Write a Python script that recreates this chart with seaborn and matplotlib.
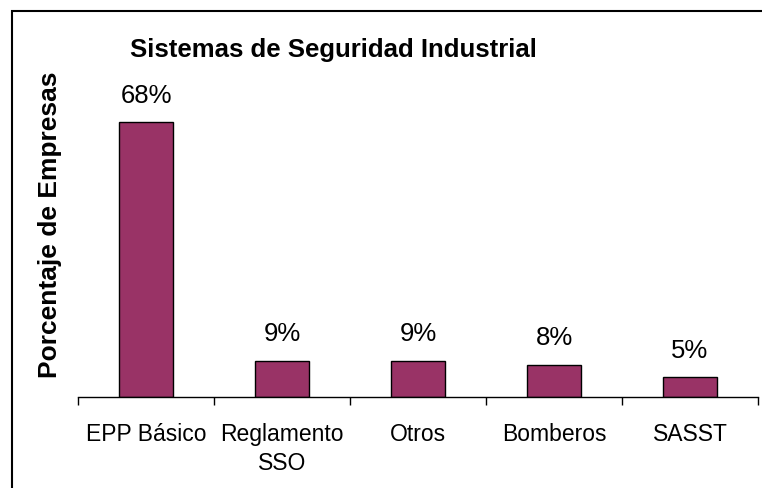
import matplotlib
matplotlib.use("Agg")
import matplotlib.pyplot as plt
from matplotlib.patches import Rectangle
import seaborn as sns
import pandas as pd

categories = ["EPP Básico", "Reglamento\nSSO", "Otros", "Bomberos", "SASST"]
values = [68, 9, 9, 8, 5]
title = "Sistemas de Seguridad Industrial"
ylabel = "Porcentaje de Empresas"

sns.set_style("white")
plt.rcParams["font.family"] = ["Liberation Sans", "DejaVu Sans"]
plt.rcParams["text.color"] = "black"
plt.rcParams["axes.labelcolor"] = "black"
plt.rcParams["xtick.color"] = "black"
plt.rcParams["ytick.color"] = "black"

W, H = 762, 489
fig = plt.figure(figsize=(W / 100, H / 100), dpi=100)
ax = fig.add_axes([78 / W, (H - 398) / H, 680 / W, 346 / H])

df = pd.DataFrame({"cat": categories, "val": values})
sns.barplot(data=df, x="cat", y="val", color="#993366", saturation=1,
            width=0.404, edgecolor="black", linewidth=1.0, ax=ax)

ax.set_xlim(-0.5, len(categories) - 0.5)
ax.set_ylim(0, 85.6)

for c in ax.containers:
    ax.bar_label(c, labels=[f"{v}%" for v in values], padding=11,
                 fontsize=18.5, color="black")

# ticks at category boundaries, labels at centers
ax.set_xticks([i - 0.5 for i in range(len(categories) + 1)])
ax.set_xticklabels([])
ax.set_xticks(range(len(categories)), minor=True)
ax.set_xticklabels(categories, minor=True, fontsize=16.5, linespacing=1.35,
                   color="black")
ax.tick_params(axis="x", which="major", direction="out", length=6,
               width=1, color="black", bottom=True)
ax.tick_params(axis="x", which="minor", length=0, pad=18, bottom=True)
ax.set_yticks([])
ax.set_xlabel("")
ax.set_ylabel(ylabel, fontsize=19, fontweight="bold", color="black")
ax.yaxis.set_label_coords(-16 / 680, 0.5)

for s in ["left", "top", "right"]:
    ax.spines[s].set_visible(False)
ax.spines["bottom"].set_color("black")
ax.spines["bottom"].set_linewidth(1.0)

fig.text(333 / W, 1 - 57 / H, title, ha="center", va="baseline",
         fontsize=18.5, fontweight="bold", color="black")

fig.add_artist(Rectangle((12 / W, -0.2), 1.5, 1.2 - 12 / H,
                         transform=fig.transFigure, fill=False,
                         edgecolor="black", linewidth=1.5))

fig.savefig("out.png", dpi=100)
